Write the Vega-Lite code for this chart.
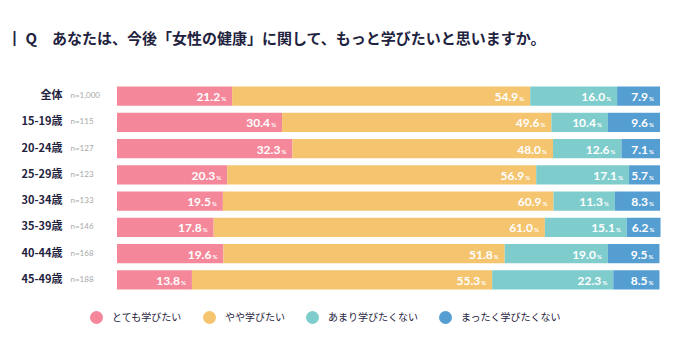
{
  "$schema": "https://vega.github.io/schema/vega-lite/v6.json",
  "width": 543,
  "height": 210,
  "autosize": "none",
  "padding": {"left": 117, "top": 83, "right": 32, "bottom": 59},
  "background": "white",
  "config": {"view": {"stroke": null}, "font": "Noto Sans CJK JP"},
  "title": {
    "text": "┃  Q　あなたは、今後「女性の健康」に関して、もっと学びたいと思いますか。",
    "anchor": "start",
    "frame": "group",
    "dx": -110,
    "offset": 36,
    "fontSize": 15,
    "fontWeight": "bold",
    "color": "#1f2340",
    "font": "Noto Sans CJK JP"
  },
  "data": {
    "values": [
      {"g": "全体|n=1,000", "c": "とても学びたい", "o": 1, "v": 21.2},
      {"g": "全体|n=1,000", "c": "やや学びたい", "o": 2, "v": 54.9},
      {"g": "全体|n=1,000", "c": "あまり学びたくない", "o": 3, "v": 16.0},
      {"g": "全体|n=1,000", "c": "まったく学びたくない", "o": 4, "v": 7.9},
      {"g": "15-19歳|n=115", "c": "とても学びたい", "o": 1, "v": 30.4},
      {"g": "15-19歳|n=115", "c": "やや学びたい", "o": 2, "v": 49.6},
      {"g": "15-19歳|n=115", "c": "あまり学びたくない", "o": 3, "v": 10.4},
      {"g": "15-19歳|n=115", "c": "まったく学びたくない", "o": 4, "v": 9.6},
      {"g": "20-24歳|n=127", "c": "とても学びたい", "o": 1, "v": 32.3},
      {"g": "20-24歳|n=127", "c": "やや学びたい", "o": 2, "v": 48.0},
      {"g": "20-24歳|n=127", "c": "あまり学びたくない", "o": 3, "v": 12.6},
      {"g": "20-24歳|n=127", "c": "まったく学びたくない", "o": 4, "v": 7.1},
      {"g": "25-29歳|n=123", "c": "とても学びたい", "o": 1, "v": 20.3},
      {"g": "25-29歳|n=123", "c": "やや学びたい", "o": 2, "v": 56.9},
      {"g": "25-29歳|n=123", "c": "あまり学びたくない", "o": 3, "v": 17.1},
      {"g": "25-29歳|n=123", "c": "まったく学びたくない", "o": 4, "v": 5.7},
      {"g": "30-34歳|n=133", "c": "とても学びたい", "o": 1, "v": 19.5},
      {"g": "30-34歳|n=133", "c": "やや学びたい", "o": 2, "v": 60.9},
      {"g": "30-34歳|n=133", "c": "あまり学びたくない", "o": 3, "v": 11.3},
      {"g": "30-34歳|n=133", "c": "まったく学びたくない", "o": 4, "v": 8.3},
      {"g": "35-39歳|n=146", "c": "とても学びたい", "o": 1, "v": 17.8},
      {"g": "35-39歳|n=146", "c": "やや学びたい", "o": 2, "v": 61.0},
      {"g": "35-39歳|n=146", "c": "あまり学びたくない", "o": 3, "v": 15.1},
      {"g": "35-39歳|n=146", "c": "まったく学びたくない", "o": 4, "v": 6.2},
      {"g": "40-44歳|n=168", "c": "とても学びたい", "o": 1, "v": 19.6},
      {"g": "40-44歳|n=168", "c": "やや学びたい", "o": 2, "v": 51.8},
      {"g": "40-44歳|n=168", "c": "あまり学びたくない", "o": 3, "v": 19.0},
      {"g": "40-44歳|n=168", "c": "まったく学びたくない", "o": 4, "v": 9.5},
      {"g": "45-49歳|n=188", "c": "とても学びたい", "o": 1, "v": 13.8},
      {"g": "45-49歳|n=188", "c": "やや学びたい", "o": 2, "v": 55.3},
      {"g": "45-49歳|n=188", "c": "あまり学びたくない", "o": 3, "v": 22.3},
      {"g": "45-49歳|n=188", "c": "まったく学びたくない", "o": 4, "v": 8.5}
    ]
  },
  "transform": [
    {"stack": "v", "groupby": ["g"], "sort": [{"field": "o"}], "as": ["x0", "x1"]}
  ],
  "layer": [
    {
      "mark": {"type": "bar"},
      "encoding": {
        "y": {
          "field": "g", "type": "nominal",
          "sort": ["全体|n=1,000", "15-19歳|n=115", "20-24歳|n=127", "25-29歳|n=123", "30-34歳|n=133", "35-39歳|n=146", "40-44歳|n=168", "45-49歳|n=188"],
          "scale": {"paddingInner": 0.27, "paddingOuter": 0.135},
          "axis": {
            "orient": "left", "title": null, "ticks": false, "domain": false,
            "labelExpr": "split(datum.value, '|')[0]",
            "labelAlign": "right", "labelPadding": 55,
            "labelFontSize": 11, "labelFontWeight": "bold", "labelColor": "#1f2340",
            "labelFont": "Noto Sans CJK JP"
          }
        },
        "x": {"field": "x0", "type": "quantitative", "scale": {"domain": [0, 100], "nice": false}, "axis": null},
        "x2": {"field": "x1"},
        "color": {
          "field": "c", "type": "nominal",
          "scale": {
            "domain": ["とても学びたい", "やや学びたい", "あまり学びたくない", "まったく学びたくない"],
            "range": ["#F4879A", "#F5C46F", "#7ECDCC", "#559ED2"]
          },
          "legend": {
            "title": null, "orient": "none", "direction": "horizontal",
            "legendX": -27, "legendY": 228,
            "symbolType": "circle", "symbolSize": 169, "symbolStrokeWidth": 0,
            "labelFontSize": 10, "labelColor": "#1f2340", "labelOffset": 9,
            "columnPadding": 21, "labelFont": "Noto Sans CJK JP"
          }
        }
      }
    },
    {
      "mark": {"type": "text", "align": "right", "baseline": "middle", "dx": -12, "dy": 1, "color": "white", "fontSize": 12, "font": "Lato", "fontWeight": "bold"},
      "encoding": {
        "y": {
          "field": "g", "type": "nominal",
          "sort": ["全体|n=1,000", "15-19歳|n=115", "20-24歳|n=127", "25-29歳|n=123", "30-34歳|n=133", "35-39歳|n=146", "40-44歳|n=168", "45-49歳|n=188"],
          "axis": {
            "orient": "left", "title": null, "ticks": false, "domain": false,
            "labelExpr": "split(datum.value, '|')[1]",
            "labelAlign": "left", "labelPadding": 47,
            "labelFontSize": 8, "labelColor": "#a8a8a8", "labelFont": "Lato"
          }
        },
        "x": {"field": "x1", "type": "quantitative"},
        "text": {"field": "v", "type": "quantitative", "format": ".1f"}
      }
    },
    {
      "mark": {"type": "text", "align": "right", "baseline": "middle", "dx": -6, "dy": 3, "color": "white", "fontSize": 6, "font": "Lato", "fontWeight": "bold"},
      "encoding": {
        "y": {
          "field": "g", "type": "nominal",
          "sort": ["全体|n=1,000", "15-19歳|n=115", "20-24歳|n=127", "25-29歳|n=123", "30-34歳|n=133", "35-39歳|n=146", "40-44歳|n=168", "45-49歳|n=188"],
          "axis": null
        },
        "x": {"field": "x1", "type": "quantitative"},
        "text": {"value": "%"}
      }
    }
  ],
  "resolve": {"axis": {"y": "independent"}}
}
